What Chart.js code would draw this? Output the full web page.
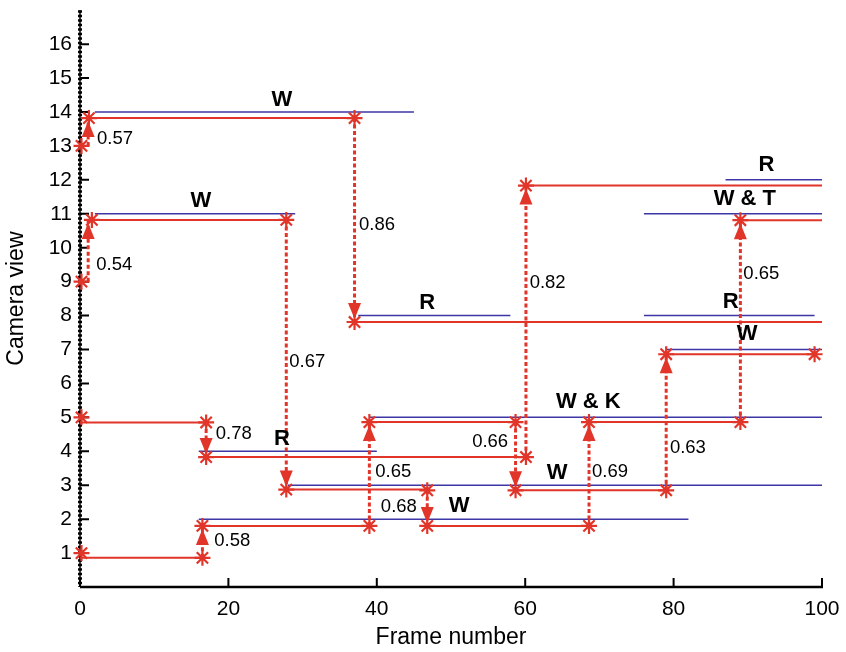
<!DOCTYPE html>
<html>
<head>
<meta charset="utf-8">
<script src="https://cdn.jsdelivr.net/npm/chart.js@4.4.1/dist/chart.umd.min.js"></script>
<style>
  html, body { margin: 0; padding: 0; background: #fff; }
  #wrap { width: 846px; height: 652px; }
</style>
</head>
<body>
<div id="wrap"><canvas id="c" width="846" height="652"></canvas></div>
<script>
// ground truth (blue): view held between two frames
const truthView = [14, 11, 8, 12, 11, 8, 7, 5, 4, 3, 2];
const truthFrom = [2, 2, 37.5, 87, 76, 76, 79, 39, 16, 28, 16];
const truthTo   = [45, 29, 58, 100, 100, 99, 100, 100, 40, 100, 82];

// estimated (red)
const estView = [13.82, 7.81, 10.82, 2.87, 4.85, 3.83, 0.86, 1.8, 4.86, 1.8, 2.85, 4.86, 6.86, 10.81, 11.83];
const estFrom = [1.2, 37, 1.6, 27.8, 0, 17, 0, 16.5, 39, 46.8, 58.7, 68.6, 79, 89, 60.1];
const estTo   = [37, 100, 27.8, 46.8, 17, 60.1, 16.5, 39, 58.7, 68.6, 79, 89, 99, 100, 100];

// view switches (dashed arrows) and their scores
const jumpFrame = [1.1, 1.1, 37, 27.8, 17, 16.5, 39, 46.8, 58.7, 60.1, 68.6, 79, 89];
const jumpFrom  = [13, 9, 13.82, 10.82, 4.85, 0.86, 1.8, 2.85, 4.86, 3.83, 1.8, 2.85, 4.86];
const jumpTo    = [13.82, 10.82, 7.81, 2.87, 3.83, 1.8, 4.86, 1.8, 2.85, 11.83, 4.86, 6.86, 10.81];
const jumpScore = ['0.57', '0.54', '0.86', '0.67', '0.78', '0.58', '0.65', '0.68', '0.66', '0.82', '0.69', '0.63', '0.65'];
const scoreX = [2.3, 2.2, 37.6, 28.2, 18.3, 18.1, 39.8, 45.4, 57.7, 60.6, 69.0, 79.5, 89.4];
const scoreY = [13.22, 9.5, 10.66, 6.64, 4.52, 1.36, 3.4, 2.36, 4.28, 8.95, 3.4, 4.1, 9.24];

// star markers
const markFrame = [0.2, 1.2, 37, 37, 0.2, 1.6, 27.8, 27.8, 0.2, 17, 17, 0.2, 16.5, 16.5, 39, 39,
                   46.8, 46.8, 58.7, 58.7, 60.1, 60.1, 68.6, 68.6, 79, 79, 89, 89, 99];
const markView  = [13, 13.82, 13.82, 7.81, 9, 10.82, 10.82, 2.87, 5, 4.85, 3.83, 1, 0.86, 1.8, 1.8, 4.86,
                   2.85, 1.8, 4.86, 2.85, 3.83, 11.83, 1.8, 4.86, 2.85, 6.86, 4.86, 10.81, 6.86];

// activity labels
const actText = ['W', 'W', 'R', 'R', 'W & T', 'R', 'W', 'W & K', 'R', 'W', 'W'];
const actX = [27.2, 16.3, 46.8, 92.5, 89.6, 87.7, 89.9, 68.5, 27.2, 64.3, 51.1];
const actY = [14.36, 11.37, 8.38, 12.43, 11.43, 8.41, 7.47, 5.46, 4.35, 3.37, 2.39];

const xTicks = [0, 20, 40, 60, 80, 100];
const yTicks = [1, 2, 3, 4, 5, 6, 7, 8, 9, 10, 11, 12, 13, 14, 15, 16];

const RED = '#e2352a';
const BLUE = '#3c36a6';
const FONT = '"Liberation Sans", Arial, Helvetica, sans-serif';

Chart.defaults.font.family = FONT;
Chart.defaults.color = '#000';

const segment = (from, to, v, color, width, order, dash) => ({
  data: [{ x: from, y: v }, { x: to, y: v }],
  showLine: true, borderColor: color, borderWidth: width, borderDash: dash || [],
  pointRadius: 0, order, clip: false,
});

const datasets = [
  ...truthView.map((v, i) => segment(truthFrom[i], truthTo[i], v, BLUE, 1.5, 4)),
  ...estView.map((v, i) => segment(estFrom[i], estTo[i], v, RED, 2, 3)),
  ...jumpFrame.map((f, i) => ({
    data: [{ x: f, y: jumpFrom[i] }, { x: f, y: jumpTo[i] }],
    showLine: true, borderColor: RED, borderWidth: 3, borderDash: [4, 2.5],
    pointRadius: 0, order: 2, clip: false,
  })),
  {
    data: markFrame.map((f, i) => ({ x: f, y: markView[i] })),
    showLine: false, pointStyle: 'star', pointRadius: 8, borderColor: RED,
    borderWidth: 2.2, backgroundColor: RED, order: 1, clip: false,
  },
];

const axes = {
  id: 'axes',
  beforeDatasetsDraw(chart) {
    const { ctx, chartArea: a, scales: { x, y } } = chart;
    ctx.save();
    ctx.strokeStyle = '#000';
    ctx.lineWidth = 2.5;
    ctx.beginPath();
    ctx.moveTo(a.left, a.bottom); ctx.lineTo(a.right + 1, a.bottom);
    ctx.stroke();
    ctx.lineWidth = 2;
    ctx.beginPath();
    xTicks.forEach(v => { const p = x.getPixelForValue(v); ctx.moveTo(p, a.bottom); ctx.lineTo(p, a.bottom - 9); });
    yTicks.forEach(v => { const p = y.getPixelForValue(v); ctx.moveTo(a.left, p); ctx.lineTo(a.left + 9, p); });
    ctx.stroke();
    // dotted left axis
    ctx.lineWidth = 1.5;
    ctx.beginPath(); ctx.moveTo(a.left, a.top); ctx.lineTo(a.left, a.bottom); ctx.stroke();
    ctx.lineWidth = 4;
    ctx.setLineDash([2.5, 2]);
    ctx.beginPath(); ctx.moveTo(a.left, a.top); ctx.lineTo(a.left, a.bottom); ctx.stroke();
    ctx.restore();
  },
};

const overlay = {
  id: 'overlay',
  afterDatasetsDraw(chart) {
    const { ctx, scales: { x, y } } = chart;
    ctx.save();
    // arrowheads
    ctx.fillStyle = RED;
    jumpFrame.forEach((f, i) => {
      const px = x.getPixelForValue(f);
      const dir = jumpTo[i] > jumpFrom[i] ? 1 : -1;
      const tipY = y.getPixelForValue(jumpTo[i]) + dir * 3;
      const baseY = tipY + dir * 16;
      ctx.beginPath();
      ctx.moveTo(px, tipY); ctx.lineTo(px - 6.5, baseY); ctx.lineTo(px + 6.5, baseY);
      ctx.closePath(); ctx.fill();
    });
    // scores
    ctx.fillStyle = '#000';
    ctx.textBaseline = 'middle';
    ctx.font = '18.5px ' + FONT;
    jumpScore.forEach((s, i) => {
      ctx.textAlign = scoreX[i] < jumpFrame[i] ? 'right' : 'left';
      ctx.fillText(s, x.getPixelForValue(scoreX[i]), y.getPixelForValue(scoreY[i]));
    });
    // activity labels
    ctx.font = 'bold 22px ' + FONT;
    ctx.textAlign = 'center';
    actText.forEach((t, i) => {
      ctx.fillText(t, x.getPixelForValue(actX[i]), y.getPixelForValue(actY[i]));
    });
    ctx.restore();
  },
};

new Chart(document.getElementById('c'), {
  type: 'scatter',
  data: { datasets },
  options: {
    responsive: false,
    animation: false,
    events: [],
    layout: { padding: { top: 9, right: 24, left: 0, bottom: 0 } },
    plugins: { legend: { display: false }, tooltip: { enabled: false } },
    scales: {
      x: {
        type: 'linear', min: 0, max: 100,
        grid: { display: false, drawTicks: false },
        border: { display: false },
        afterBuildTicks: s => { s.ticks = xTicks.map(v => ({ value: v })); },
        afterFit: s => { s.height = 65; s.paddingLeft = 0; s.paddingRight = 0; },
        ticks: { color: '#000', font: { size: 21 }, padding: 10, maxRotation: 0, autoSkip: false },
        title: { display: true, text: 'Frame number', color: '#000', font: { size: 23 }, padding: { top: 0, bottom: 1 } },
      },
      y: {
        type: 'linear', min: 0, max: 17,
        grid: { display: false, drawTicks: false },
        border: { display: false },
        afterBuildTicks: s => { s.ticks = yTicks.map(v => ({ value: v })); },
        afterFit: s => { s.width = 80; s.paddingTop = 0; s.paddingBottom = 0; },
        ticks: { color: '#000', font: { size: 21 }, padding: 8, autoSkip: false },
        title: { display: true, text: 'Camera view', color: '#000', font: { size: 23 }, padding: { top: 3, bottom: 0 } },
      },
    },
  },
  plugins: [axes, overlay],
});
</script>
</body>
</html>
